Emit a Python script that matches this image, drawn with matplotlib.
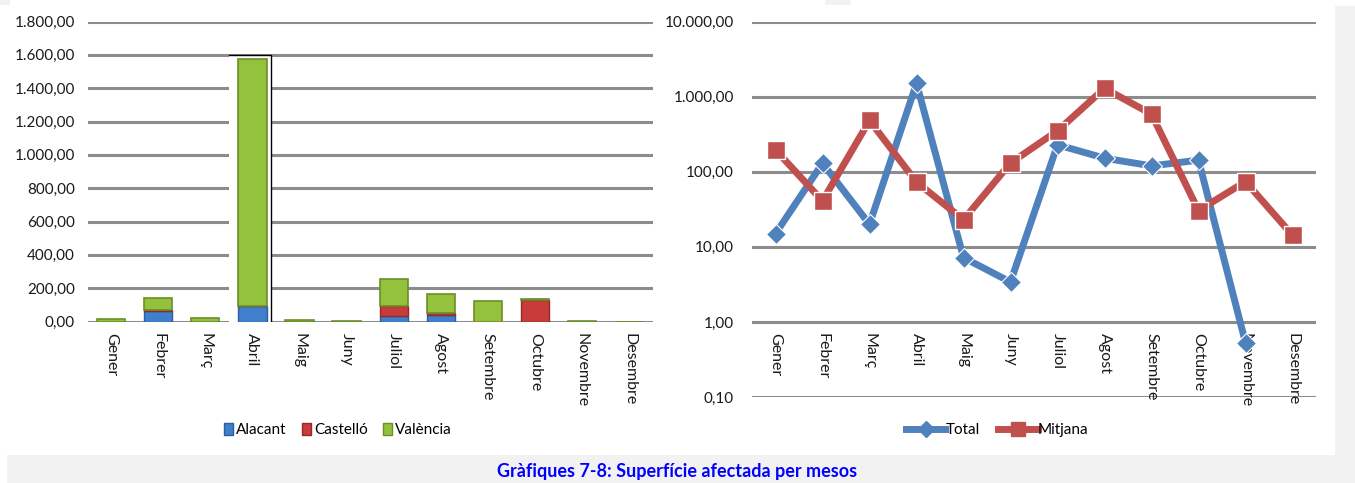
import numpy as np
import matplotlib.pyplot as plt
from matplotlib.patches import Patch, Rectangle
from matplotlib.lines import Line2D
from matplotlib.ticker import FixedLocator, FuncFormatter

plt.rcParams['font.family'] = ['Lato', 'DejaVu Sans']

mesos = ['Gener', 'Febrer', 'Març', 'Abril', 'Maig', 'Juny', 'Juliol',
         'Agost', 'Setembre', 'Octubre', 'Novembre', 'Desembre']

# superficie per provincia (ha), llegida del grafic
alacant = [0, 62, 0, 95, 0, 0, 36, 42, 0, 0, 0, 0]
castello = [0, 10, 0, 0, 0, 0, 58, 8, 0, 128, 0, 0]
valencia = [15, 68, 20, 1480, 7, 3.5, 160, 115, 125, 10, 0.5, 0]

# escala logaritmica
total = [15, 130, 20, 1510, 7.2, 3.4, 229, 152, 120, 143, 0.53, np.nan]
mitjana = [196, 41, 483, 73, 23, 131, 352, 1294, 587, 30.5, 74, 14.3]

left_ticks = [0, 200, 400, 600, 800, 1000, 1200, 1400, 1600, 1800]
right_ticks = [0.1, 1, 10, 100, 1000, 10000]

c_blue = '#3f7fcc'
c_red = '#c83b3b'
c_green = '#94c23c'
c_line_blue = '#4f81bd'
c_line_red = '#c0504d'
grid_c = '#8c8c8c'
txt_c = '#1a1a1a'


def fmt_es(v, pos=None):
    s = f'{v:,.2f}'
    return s.replace(',', 'X').replace('.', ',').replace('X', '.')


fig = plt.figure(figsize=(13.55, 4.83), dpi=100)
W, H = 1355, 483

# fons gris de la pagina
fig.patches.append(Rectangle((7 / W, 0), 1 - 7 / W, 28 / H, transform=fig.transFigure,
                             facecolor='#f2f2f2', edgecolor='none', zorder=0))
fig.patches.append(Rectangle((1335 / W, 28 / H), 20 / W, (477 - 28) / H, transform=fig.transFigure,
                             facecolor='#f2f2f2', edgecolor='none', zorder=0))
fig.patches.append(Rectangle((0, 1 - 5 / H), 10 / W, 5 / H, transform=fig.transFigure,
                             facecolor='#f2f2f2', edgecolor='none', zorder=0))
fig.patches.append(Rectangle((825 / W, 1 - 5 / H), 26 / W, 5 / H, transform=fig.transFigure,
                             facecolor='#f2f2f2', edgecolor='none', zorder=0))

x = np.arange(len(mesos))

# ---------- grafic 7: barres apilades ----------
ax1 = fig.add_axes([87.6 / W, 1 - 321.5 / H, 565 / W, 300 / H])
ax1.set_xlim(-0.5, 11.5)
ax1.set_ylim(0, 1800)
for t in left_ticks:
    ax1.axhline(t, color=grid_c, lw=2.2, zorder=1)

# caixa blanca al voltant d'Abril (artefacte de l'original)
ax1.add_patch(Rectangle((2.5, 0), 0.9, 1600, facecolor='white', edgecolor='none', zorder=1.5))
ax1.plot([2.5, 3.4, 3.4], [1600, 1600, 0], color='black', lw=1, zorder=1.6)

a = np.array(alacant, float)
c = np.array(castello, float)
v = np.array(valencia, float)
bw = 0.6
ax1.bar(x, a, bw, color=c_blue, edgecolor='#2d5f9e', lw=1, zorder=2)
ax1.bar(x, c, bw, bottom=a, color=c_red, edgecolor='#922a2a', lw=1, zorder=2)
ax1.bar(x, v, bw, bottom=a + c, color=c_green, edgecolor='#6b8f28', lw=1.2, zorder=2)

ax1.set_xticks(x)
ax1.set_xticklabels(mesos, rotation=-90, fontsize=11.5, color=txt_c, va='top')
ax1.yaxis.set_major_locator(FixedLocator(left_ticks))
ax1.yaxis.set_major_formatter(FuncFormatter(fmt_es))
ax1.tick_params(axis='y', length=0, pad=9, labelsize=11, labelcolor=txt_c)
ax1.tick_params(axis='x', length=0, pad=8)
for s in ax1.spines.values():
    s.set_visible(False)

leg1 = [Patch(facecolor=c_blue, edgecolor='#2d5f9e', label='Alacant'),
        Patch(facecolor=c_red, edgecolor='#922a2a', label='Castelló'),
        Patch(facecolor=c_green, edgecolor='#6b8f28', label='València')]
fig.legend(handles=leg1, loc='center', bbox_to_anchor=(338 / W, 1 - 430 / H), ncol=3,
           frameon=False, fontsize=11, handlelength=0.6, handleheight=0.9,
           handletextpad=0.2, columnspacing=1.0)

# ---------- grafic 8: linies escala log ----------
ax2 = fig.add_axes([752 / W, 1 - 397 / H, 564 / W, 375.3 / H])
ax2.set_yscale('log')
ax2.set_xlim(-0.5, 11.5)
ax2.set_ylim(0.1, 10000)
for t in right_ticks:
    ax2.axhline(t, color=grid_c, lw=2.2, zorder=1)

ax2.plot(x, total, color=c_line_blue, lw=5, marker='D', markersize=10,
         markerfacecolor=c_line_blue, markeredgecolor='white', markeredgewidth=0.8,
         zorder=3, label='Total')
ax2.plot(x, mitjana, color=c_line_red, lw=5, marker='s', markersize=13,
         markerfacecolor=c_line_red, markeredgecolor='white', markeredgewidth=1,
         zorder=4, label='Mitjana')

ax2.set_xticks(x)
ax2.set_xticklabels(mesos, rotation=-90, fontsize=11.5, color=txt_c, va='top')
ax2.yaxis.set_major_locator(FixedLocator(right_ticks))
ax2.yaxis.set_minor_locator(FixedLocator([]))
ax2.yaxis.set_major_formatter(FuncFormatter(fmt_es))
ax2.tick_params(axis='y', length=0, pad=13, labelsize=11, labelcolor=txt_c)
ax2.tick_params(axis='x', length=0, pad=-46)
for s in ax2.spines.values():
    s.set_visible(False)

leg2 = [Line2D([], [], color=c_line_blue, lw=5, marker='D', markersize=8, label='Total'),
        Line2D([], [], color=c_line_red, lw=5, marker='s', markersize=10, label='Mitjana')]
fig.legend(handles=leg2, loc='center', bbox_to_anchor=(997 / W, 1 - 430 / H), ncol=2,
           frameon=False, fontsize=11, handlelength=2.6, handletextpad=0.0,
           columnspacing=1.2)

fig.text(677 / W, 1 - 472 / H, 'Gràfiques 7-8: Superfície afectada per mesos',
         ha='center', va='center', color='#0000ff', fontsize=13, fontweight='bold')

fig.savefig('out.png', dpi=100)
